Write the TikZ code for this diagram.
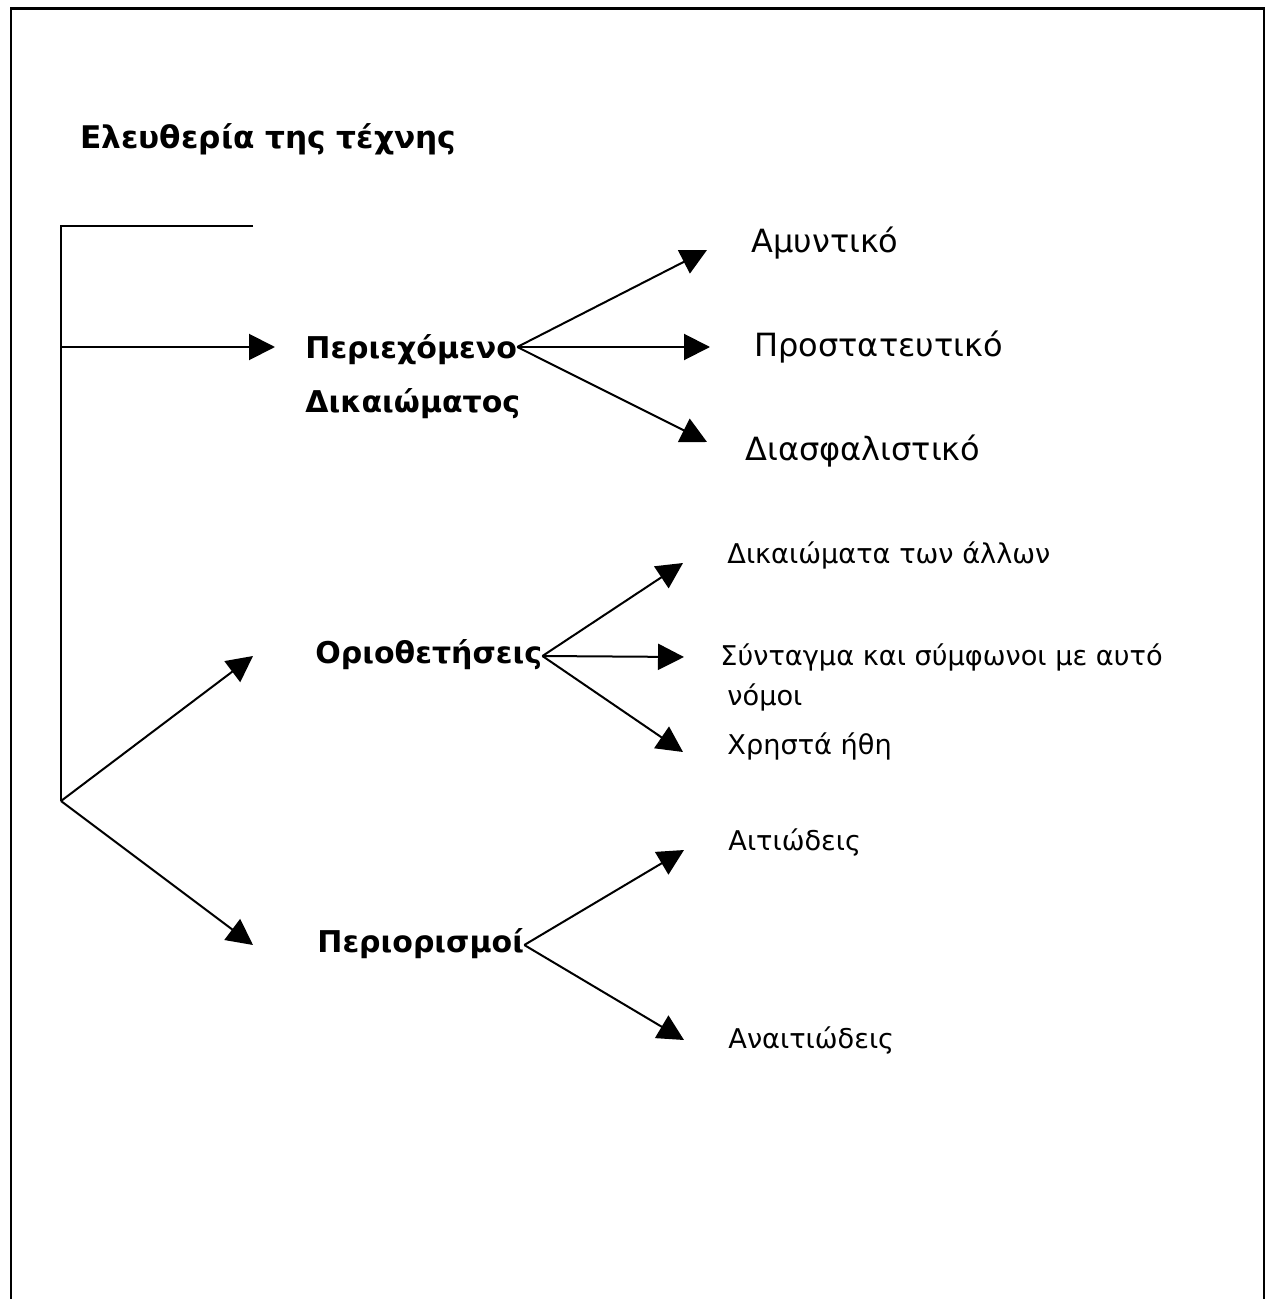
\documentclass[tikz,border=0pt]{standalone}
\usepackage{fontspec}
\setmainfont{DejaVu Sans}
\usetikzlibrary{arrows.meta}
\tikzset{>={Triangle[length=13pt,width=13pt]}}
\tikzset{heading/.style = {font=\fontsize{15.6}{19}\selectfont\bfseries, inner sep=0pt, anchor=base west}}
\tikzset{branch/.style = {font=\fontsize{15}{18}\selectfont\bfseries, inner sep=0pt, text height=7pt, text depth=0pt, anchor=base west}}
\tikzset{leaf/.style = {font=\fontsize{16}{19}\selectfont, anchor=west, inner xsep=22pt, inner ysep=0pt, text height=4pt, text depth=0pt}}
\tikzset{smallleaf/.style = {leaf, font=\fontsize{13.6}{16}\selectfont}}
\tikzset{link/.style = {line width=1pt, ->}}

\begin{document}
\begin{tikzpicture}[x=0.5pt, y=-0.5pt]
		\useasboundingbox (0,0) rectangle (1266,1299);

		% Frame
		\draw[line width=1.4pt] (11,1299) -- (11,8.5) -- (1264,8.5) -- (1264,1299);

		% Title
		\node[heading] (title) at (80,149) {Ελευθερία της τέχνης};

		% Branches
		\node[branch, text height=11pt] (cont) at (305,358) {Περιεχόμενο};
		\node[branch] (contb) at (305,412) {Δικαιώματος};
		\node[branch] (orio) at (315,663) {Οριοθετήσεις};
		\node[branch] (perior) at (317,952) {Περιορισμοί};

		% Leaves
		\node[leaf, text height=3pt] (amyn) at (707,250) {Αμυντικό};
		\node[leaf, text height=10pt] (prost) at (710,347) {Προστατευτικό};
		\node[leaf, inner xsep=19pt, text height=18pt] (diasf) at (707,442) {Διασφαλιστικό};
		\node[smallleaf, text height=0pt] (dikaio) at (683,563) {Δικαιώματα των άλλων};
		\node[smallleaf, inner xsep=18pt, text height=8pt] (synt) at (684,657) {Σύνταγμα και σύμφωνοι με αυτό};
		\node[smallleaf, inner xsep=0pt, anchor=base west] (nomoi) at (727,705) {νόμοι};
		\node[smallleaf, text height=2pt] (christ) at (683,752) {Χρηστά ήθη};
		\node[smallleaf, text height=0pt] (aitio) at (684,850) {Αιτιώδεις};
		\node[smallleaf, text height=8pt] (anait) at (684,1040) {Αναιτιώδεις};

		% Spine
		\coordinate (top) at (61,226);
		\coordinate (topend) at (253,226);
		\coordinate (fork) at (61,801);
		\draw[line width=1pt] (topend) -- (top) -- (fork);
		\draw[link] (cont.west -| top) -- ([xshift=-15pt]cont.west);
		\draw[link] (fork) -- ([xshift=-31pt]orio.west);
		\draw[link] (fork) -- ([xshift=-32pt]perior.west);

		% Arrows to leaves
		\draw[link] (cont.east) -- (amyn.west);
		\draw[link] (cont.east) -- (prost.west);
		\draw[link] (cont.east) -- (diasf.west);
		\draw[link] (orio.east) -- (dikaio.west);
		\draw[link] (orio.east) -- (synt.west);
		\draw[link] (orio.east) -- (christ.west);
		\draw[link] (perior.east) -- (aitio.west);
		\draw[link] (perior.east) -- (anait.west);
\end{tikzpicture}
\end{document}
